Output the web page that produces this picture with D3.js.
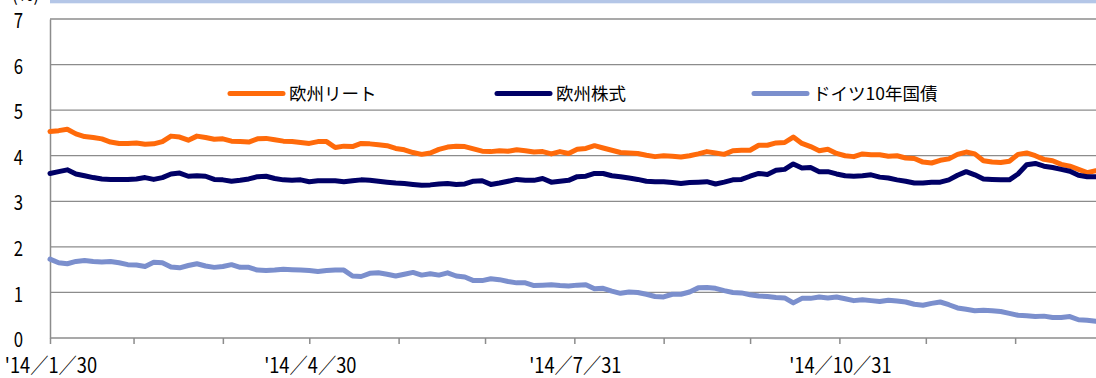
<!DOCTYPE html>
<html>
<head>
<meta charset="utf-8">
<script src="https://cdn.jsdelivr.net/npm/d3@7"></script>
<style>
  html, body { margin: 0; padding: 0; background: #fff; }
  svg { display: block; }
  text { font-family: "Noto Sans CJK JP", "Noto Sans", sans-serif; fill: #000; }
</style>
</head>
<body>
<svg id="chart" width="1096" height="378"></svg>
<script>
// Yields (%) sampled every 3 calendar days from 2014/1/30
const sampleStart = "2014-01-30";
const sampleStepDays = 3;

const seriesNames = ["欧州リート", "欧州株式", "ドイツ10年国債"];

const euroReit = [
  4.53, 4.55, 4.58, 4.48, 4.42, 4.40, 4.37, 4.30, 4.27, 4.27,
  4.28, 4.25, 4.26, 4.31, 4.43, 4.41, 4.34, 4.43, 4.40, 4.36,
  4.37, 4.32, 4.31, 4.30, 4.37, 4.38, 4.35, 4.32, 4.31, 4.29,
  4.27, 4.31, 4.31, 4.18, 4.21, 4.20, 4.27, 4.26, 4.24, 4.22,
  4.16, 4.13, 4.07, 4.03, 4.06, 4.14, 4.19, 4.21, 4.20, 4.15,
  4.10, 4.09, 4.11, 4.10, 4.13, 4.11, 4.08, 4.09, 4.04, 4.09,
  4.05, 4.14, 4.16, 4.22, 4.17, 4.12, 4.07, 4.06, 4.05, 4.01,
  3.98, 4.00, 3.99, 3.97, 4.00, 4.04, 4.09, 4.06, 4.03, 4.11,
  4.12, 4.12, 4.23, 4.23, 4.28, 4.29, 4.41, 4.27, 4.20, 4.11,
  4.14, 4.05, 4.00, 3.98, 4.04, 4.02, 4.02, 3.99, 4.00, 3.95,
  3.94, 3.86, 3.84, 3.90, 3.93, 4.03, 4.08, 4.04, 3.89, 3.86,
  3.85, 3.88, 4.03, 4.06, 4.00, 3.92, 3.89, 3.81, 3.77, 3.70,
  3.63, 3.67
];

const euroEquity = [
  3.61, 3.65, 3.69, 3.60, 3.56, 3.52, 3.49, 3.48, 3.48, 3.48,
  3.49, 3.52, 3.48, 3.52, 3.60, 3.62, 3.55, 3.56, 3.55, 3.48,
  3.47, 3.44, 3.46, 3.49, 3.54, 3.55, 3.50, 3.47, 3.46, 3.47,
  3.43, 3.45, 3.45, 3.45, 3.43, 3.45, 3.47, 3.46, 3.44, 3.42,
  3.40, 3.39, 3.37, 3.35, 3.36, 3.38, 3.39, 3.37, 3.38, 3.44,
  3.45, 3.37, 3.40, 3.44, 3.48, 3.46, 3.46, 3.50, 3.42, 3.44,
  3.46, 3.54, 3.55, 3.61, 3.61, 3.56, 3.54, 3.51, 3.48, 3.44,
  3.43, 3.43, 3.41, 3.39, 3.41, 3.42, 3.43, 3.38, 3.42, 3.47,
  3.48, 3.55, 3.61, 3.59, 3.68, 3.70, 3.82, 3.73, 3.74, 3.65,
  3.65, 3.60, 3.56, 3.55, 3.56, 3.58, 3.53, 3.51, 3.47, 3.44,
  3.40, 3.40, 3.42, 3.42, 3.47, 3.57, 3.65, 3.58, 3.49, 3.48,
  3.47, 3.47, 3.60, 3.80, 3.83, 3.77, 3.74, 3.70, 3.66, 3.57,
  3.54, 3.54
];

const bund10y = [
  1.73, 1.65, 1.63, 1.68, 1.70, 1.68, 1.67, 1.68, 1.65, 1.61,
  1.60, 1.57, 1.66, 1.65, 1.56, 1.54, 1.59, 1.63, 1.58, 1.55,
  1.57, 1.61, 1.55, 1.55, 1.49, 1.48, 1.49, 1.51, 1.50, 1.49,
  1.48, 1.46, 1.48, 1.49, 1.49, 1.36, 1.35, 1.42, 1.43, 1.40,
  1.36, 1.40, 1.44, 1.38, 1.41, 1.38, 1.43, 1.36, 1.34, 1.26,
  1.26, 1.30, 1.28, 1.24, 1.21, 1.21, 1.15, 1.16, 1.17, 1.15,
  1.14, 1.16, 1.17, 1.08, 1.09, 1.03, 0.98, 1.01, 1.00, 0.96,
  0.91, 0.90, 0.96, 0.96, 1.01, 1.10, 1.11, 1.09, 1.04, 1.00,
  0.99, 0.95, 0.92, 0.91, 0.89, 0.88, 0.77, 0.87, 0.87, 0.90,
  0.88, 0.90, 0.86, 0.82, 0.84, 0.82, 0.80, 0.83, 0.81, 0.79,
  0.74, 0.72, 0.76, 0.79, 0.73, 0.66, 0.63, 0.60, 0.61, 0.60,
  0.58, 0.54, 0.50, 0.49, 0.47, 0.48, 0.45, 0.45, 0.47, 0.40,
  0.39, 0.37
];

const yTicks = [0, 1, 2, 3, 4, 5, 6, 7];
const xTickDates = ["2014-01-30", "2014-02-28", "2014-03-31", "2014-04-30", "2014-05-31",
  "2014-06-30", "2014-07-31", "2014-08-31", "2014-09-30", "2014-10-31",
  "2014-11-30", "2014-12-31", "2015-01-30"];
const xLabelDates = ["2014-01-30", "2014-04-30", "2014-07-31", "2014-10-31"];
const xLabels = ["'14／1／30", "'14／4／30", "'14／7／31", "'14／10／31"];

const colors = ["#ff6a0a", "#000066", "#7b8fcd"];

const parse = d3.utcParse("%Y-%m-%d");
const start = parse(sampleStart);
const dates = euroReit.map((_, i) => d3.utcDay.offset(start, i * sampleStepDays));

const svg = d3.select("#chart");
const W = 1096, H = 378;
const plotLeft = 50, plotTop = 19, plotBottom = 338;

const x = d3.scaleUtc()
  .domain([parse("2014-01-30"), parse("2015-01-30")])
  .range([plotLeft, plotLeft + 365 * 2.881]);
const y = d3.scaleLinear().domain([0, 7]).range([plotBottom, plotTop]);

// band of the title box above the plot
svg.append("rect")
  .attr("x", plotLeft).attr("y", 0)
  .attr("width", W - plotLeft).attr("height", 3.3)
  .attr("fill", "#b4c6e7");

svg.append("text")
  .attr("transform", "translate(12,1) scale(0.85,1)")
  .style("font-size", "20px")
  .text("(%)");

// horizontal grid lines (including the top frame at 7)
svg.append("g")
  .selectAll("line")
  .data(yTicks.filter(d => d > 0))
  .join("line")
  .attr("x1", plotLeft).attr("x2", W)
  .attr("y1", d => y(d)).attr("y2", d => y(d))
  .attr("stroke", "#8c8c8c").attr("stroke-width", 1.3);

// y axis
const yAxis = d3.axisLeft(y).tickValues(yTicks).tickSize(0).tickFormat(d3.format("d"));
const gy = svg.append("g").attr("transform", `translate(${plotLeft},0)`).call(yAxis);
gy.select(".domain").attr("stroke", "#8c8c8c").attr("stroke-width", 1.5);
gy.selectAll(".tick text")
  .attr("x", null).attr("dy", "0.36em")
  .attr("transform", "translate(-27,1) scale(0.8,1)")
  .attr("text-anchor", "end")
  .attr("fill", "#000")
  .style("font-size", "21px")
  .style("font-family", "'Noto Sans CJK JP', sans-serif");

// x axis with month-end ticks
const xAxis = d3.axisBottom(x)
  .tickValues(xTickDates.map(parse))
  .tickSize(6)
  .tickFormat("");
const gx = svg.append("g").attr("transform", `translate(0,${plotBottom})`).call(xAxis);
gx.select(".domain").attr("stroke", "#8c8c8c").attr("stroke-width", 1.5).attr("d", `M${plotLeft},0H${W}`);
gx.selectAll(".tick line").attr("stroke", "#8c8c8c").attr("stroke-width", 1.5);

svg.append("g")
  .selectAll("text")
  .data(xLabelDates)
  .join("text")
  .attr("transform", d => `translate(${x(parse(d)) + 1},373) scale(0.87,1)`)
  .attr("text-anchor", "middle")
  .style("font-size", "21px")
  .text((d, i) => xLabels[i]);

// series lines
const allSeries = [euroReit, euroEquity, bund10y];
const line = d3.line()
  .x((d, i) => x(dates[i]))
  .y(d => y(d));

svg.append("g")
  .selectAll("path")
  .data(allSeries)
  .join("path")
  .attr("d", d => line(d))
  .attr("fill", "none")
  .attr("stroke", (d, i) => colors[i])
  .attr("stroke-width", 5)
  .attr("stroke-linejoin", "round")
  .attr("stroke-linecap", "round");

// legend
const legendX = [228, 495, 752];
const legendY = 93.5;
const lg = svg.append("g").attr("class", "legend");
seriesNames.forEach((name, i) => {
  lg.append("line")
    .attr("x1", legendX[i] + 2).attr("x2", legendX[i] + 55)
    .attr("y1", legendY).attr("y2", legendY)
    .attr("stroke", colors[i]).attr("stroke-width", 5)
    .attr("stroke-linecap", "round");
  lg.append("text")
    .attr("x", legendX[i] + 61)
    .attr("y", legendY)
    .attr("dy", "0.36em")
    .style("font-size", "17.5px")
    .text(name);
});
</script>
</body>
</html>
